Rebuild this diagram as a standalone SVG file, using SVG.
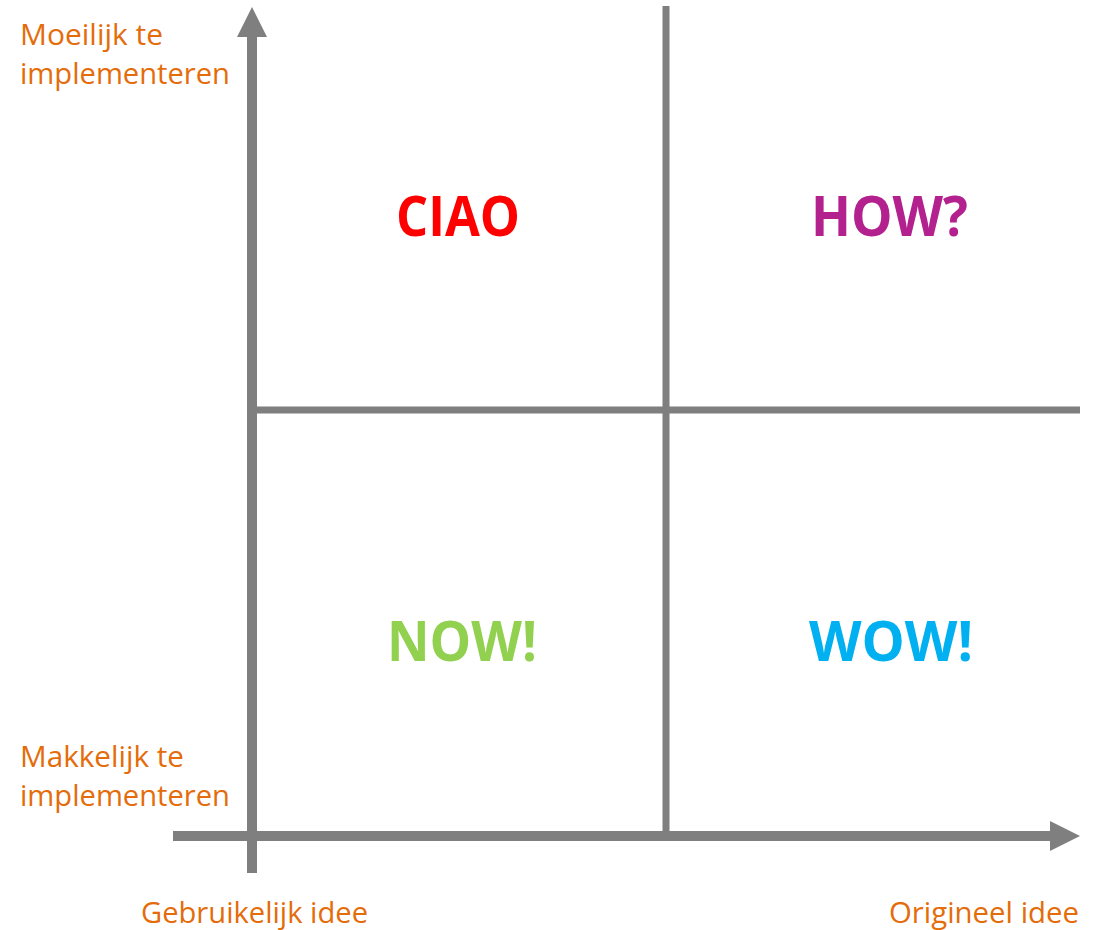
<svg xmlns="http://www.w3.org/2000/svg" width="1101" height="930" viewBox="0 0 1101 930">
  <style>
    .axis { stroke: #7f7f7f; stroke-width: 10; fill: none; }
    .grid { stroke: #7f7f7f; stroke-width: 7; fill: none; }
    .lbl { font-family: "Open Sans", "Noto Sans", sans-serif; font-size: 30px; fill: #E46C0A; }
    .quad { font-family: "Open Sans", "Noto Sans", sans-serif; font-size: 55px; font-weight: bold; }
  </style>
  <defs>
    <marker id="arrow" markerUnits="userSpaceOnUse" markerWidth="30" markerHeight="30" refX="5" refY="15" orient="auto" viewBox="0 0 30 30">
      <path d="M0,0 L30,15 L0,30 z" fill="#7f7f7f"/>
    </marker>
  </defs>
  <rect width="1101" height="930" fill="#ffffff"/>
  <g id="connectors">
    <line class="grid" x1="666" y1="6" x2="666" y2="836"/>
    <line class="grid" x1="252" y1="410" x2="1080" y2="410"/>
    <line class="axis" x1="252" y1="873" x2="252" y2="32" marker-end="url(#arrow)"/>
    <line class="axis" x1="173" y1="836" x2="1055" y2="836" marker-end="url(#arrow)"/>
  </g>
  <g id="label-moeilijk">
    <text class="lbl" x="20" y="45" textLength="143" lengthAdjust="spacingAndGlyphs">Moeilijk te</text>
    <text class="lbl" x="20" y="84" textLength="210" lengthAdjust="spacingAndGlyphs">implementeren</text>
  </g>
  <g id="label-makkelijk">
    <text class="lbl" x="20" y="767" textLength="164" lengthAdjust="spacingAndGlyphs">Makkelijk te</text>
    <text class="lbl" x="20" y="806" textLength="210" lengthAdjust="spacingAndGlyphs">implementeren</text>
  </g>
  <g id="label-gebruikelijk">
    <text class="lbl" x="141" y="923" textLength="227" lengthAdjust="spacingAndGlyphs">Gebruikelijk idee</text>
  </g>
  <g id="label-origineel">
    <text class="lbl" x="889" y="923" textLength="190" lengthAdjust="spacingAndGlyphs">Origineel idee</text>
  </g>
  <g id="quad-ciao">
    <text class="quad" x="396" y="236" fill="#FF0000" textLength="124" lengthAdjust="spacingAndGlyphs">CIAO</text>
  </g>
  <g id="quad-how">
    <text class="quad" x="811" y="236" fill="#B3218E" textLength="157" lengthAdjust="spacingAndGlyphs">HOW?</text>
  </g>
  <g id="quad-now">
    <text class="quad" x="387" y="661" fill="#92D050" textLength="150" lengthAdjust="spacingAndGlyphs">NOW!</text>
  </g>
  <g id="quad-wow">
    <text class="quad" x="809" y="661" fill="#00B0F0" textLength="164" lengthAdjust="spacingAndGlyphs">WOW!</text>
  </g>
</svg>
